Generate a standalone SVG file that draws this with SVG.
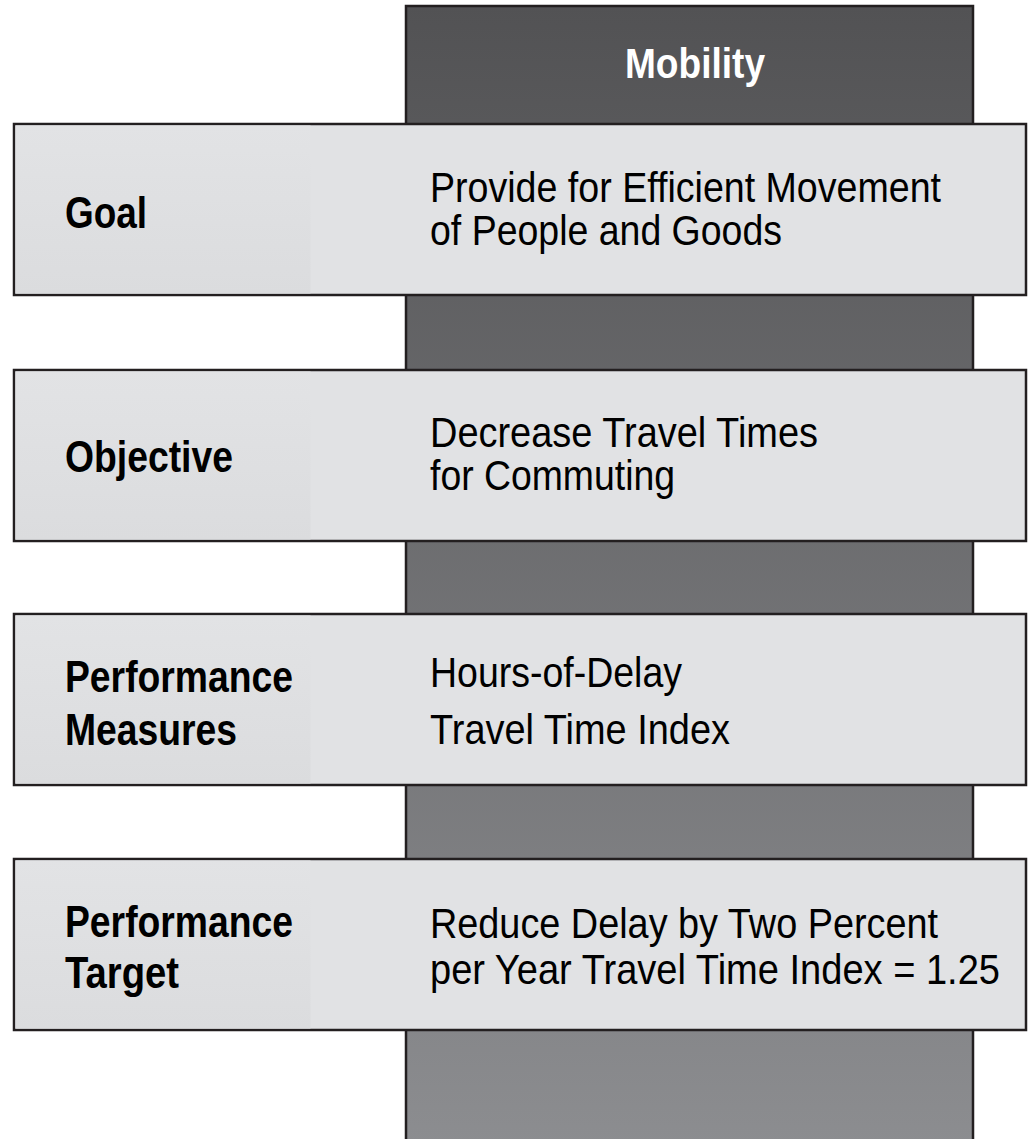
<svg xmlns="http://www.w3.org/2000/svg" width="1028" height="1139" viewBox="0 0 1028 1139">
<defs>
<linearGradient id="colGrad" x1="0" y1="0" x2="0" y2="1">
<stop offset="0" stop-color="#525254"/>
<stop offset="1" stop-color="#8c8d90"/>
</linearGradient>
<linearGradient id="shade" x1="0" y1="0" x2="0" y2="1">
<stop offset="0" stop-color="#e2e3e5"/>
<stop offset="1" stop-color="#dbdcde"/>
</linearGradient>
<style>
.box{fill:#e1e2e4;stroke:#231f20;stroke-width:2.5}
.shade{fill:url(#shade)}
.lbl{font-family:"Liberation Sans",Arial,sans-serif;font-weight:bold;font-size:44px;fill:#000}
.txt{font-family:"Liberation Sans",Arial,sans-serif;font-size:43px;fill:#000}
.hdr{font-family:"Liberation Sans",Arial,sans-serif;font-weight:bold;font-size:43px;fill:#fff}
</style>
</defs>
<rect width="1028" height="1139" fill="#ffffff"/>
<g id="column">
<rect x="406" y="6" width="567" height="1140" fill="url(#colGrad)" stroke="#231f20" stroke-width="2.5"/>
<text class="hdr" x="625" y="78" textLength="140" lengthAdjust="spacingAndGlyphs">Mobility</text>
</g>
<g id="connectors"></g>
<g id="goal">
<rect class="box" x="14" y="124" width="1012" height="171"/>
<rect class="shade" x="15.5" y="125.5" width="295" height="168"/>
<text class="lbl" x="65" y="228" textLength="82" lengthAdjust="spacingAndGlyphs">Goal</text>
<text class="txt" x="430" y="202" textLength="511" lengthAdjust="spacingAndGlyphs">Provide for Efficient Movement</text>
<text class="txt" x="430" y="245" textLength="352" lengthAdjust="spacingAndGlyphs">of People and Goods</text>
</g>
<g id="objective">
<rect class="box" x="14" y="370" width="1012" height="171"/>
<rect class="shade" x="15.5" y="371.5" width="295" height="168"/>
<text class="lbl" x="65" y="472" textLength="168" lengthAdjust="spacingAndGlyphs">Objective</text>
<text class="txt" x="430" y="447" textLength="388" lengthAdjust="spacingAndGlyphs">Decrease Travel Times</text>
<text class="txt" x="430" y="490" textLength="245" lengthAdjust="spacingAndGlyphs">for Commuting</text>
</g>
<g id="measures">
<rect class="box" x="14" y="614" width="1012" height="171"/>
<rect class="shade" x="15.5" y="615.5" width="295" height="168"/>
<text class="lbl" x="65" y="692" textLength="228" lengthAdjust="spacingAndGlyphs">Performance</text>
<text class="lbl" x="65" y="745" textLength="172" lengthAdjust="spacingAndGlyphs">Measures</text>
<text class="txt" x="430" y="687" textLength="252" lengthAdjust="spacingAndGlyphs">Hours-of-Delay</text>
<text class="txt" x="430" y="744" textLength="300" lengthAdjust="spacingAndGlyphs">Travel Time Index</text>
</g>
<g id="target">
<rect class="box" x="14" y="859" width="1012" height="171"/>
<rect class="shade" x="15.5" y="860.5" width="295" height="168"/>
<text class="lbl" x="65" y="937" textLength="228" lengthAdjust="spacingAndGlyphs">Performance</text>
<text class="lbl" x="65" y="988" textLength="114" lengthAdjust="spacingAndGlyphs">Target</text>
<text class="txt" x="430" y="938" textLength="508" lengthAdjust="spacingAndGlyphs">Reduce Delay by Two Percent</text>
<text class="txt" x="430" y="984" textLength="570" lengthAdjust="spacingAndGlyphs">per Year Travel Time Index = 1.25</text>
</g>
</svg>
